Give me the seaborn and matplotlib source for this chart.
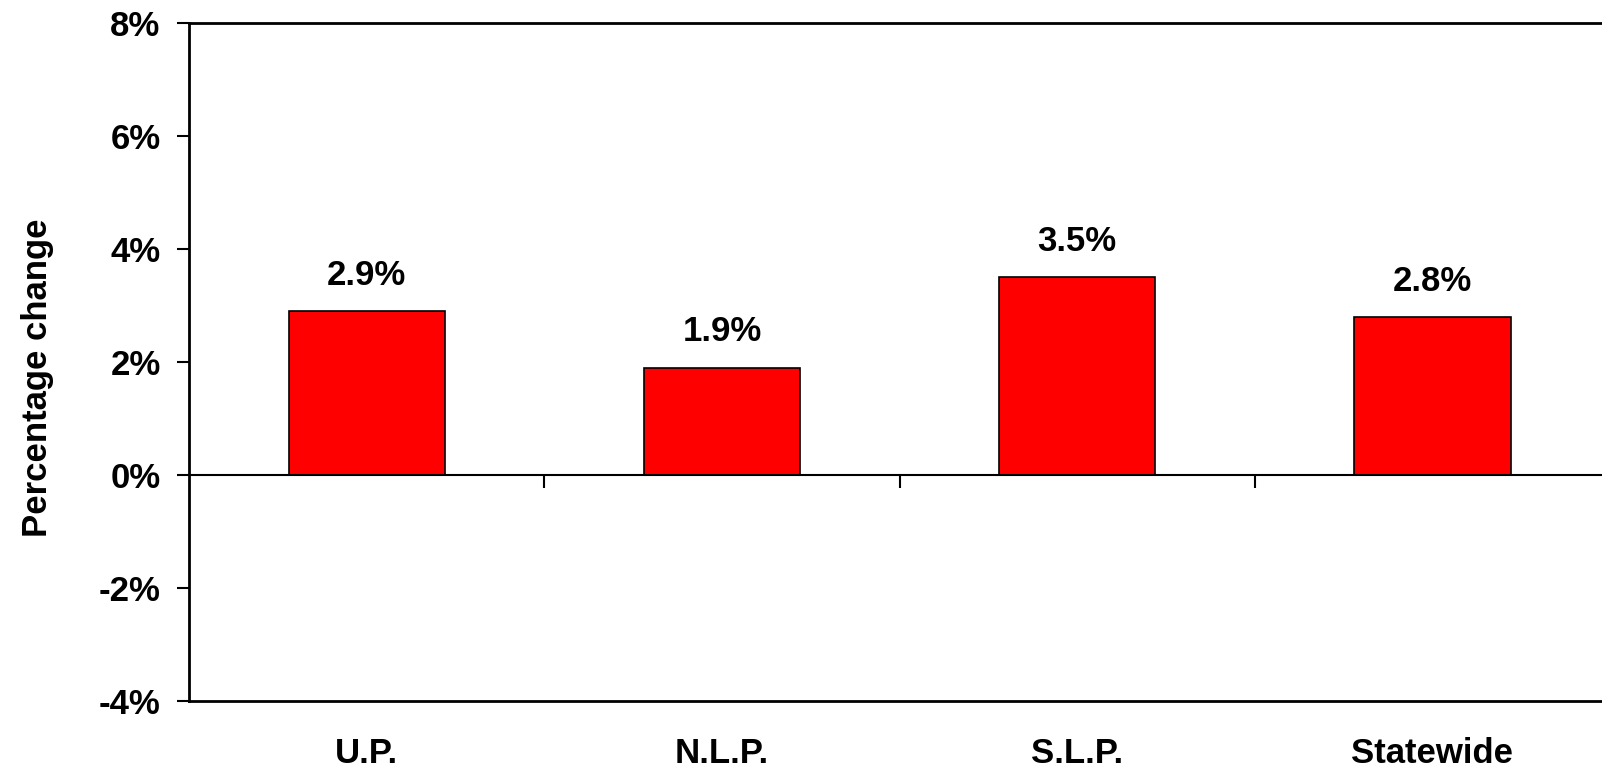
import matplotlib
matplotlib.use('Agg')
import matplotlib.pyplot as plt
import seaborn as sns
import pandas as pd
from matplotlib.ticker import FuncFormatter

regions = ['U.P.', 'N.L.P.', 'S.L.P.', 'Statewide']
pct_change = [2.9, 1.9, 3.5, 2.8]
value_labels = ['2.9%', '1.9%', '3.5%', '2.8%']
y_ticks = [-4, -2, 0, 2, 4, 6, 8]

df = pd.DataFrame({'Region': regions, 'Change': pct_change})

sns.set_style('white')
plt.rcParams['font.family'] = ['Liberation Sans', 'DejaVu Sans']
plt.rcParams['font.weight'] = 'bold'
plt.rcParams['text.color'] = 'black'
plt.rcParams['axes.labelcolor'] = 'black'
plt.rcParams['xtick.color'] = 'black'
plt.rcParams['ytick.color'] = 'black'

fig = plt.figure(figsize=(16.02, 7.69), dpi=100)
ax = fig.add_axes([0.118, 0.088, 0.887, 0.882])

sns.barplot(data=df, x='Region', y='Change', color='#ff0000', saturation=1,
            edgecolor='black', linewidth=1.2, width=0.44, ax=ax)

ax.set_xlim(-0.5, 3.5)
ax.set_ylim(-4, 8)
ax.set_yticks(y_ticks)
ax.yaxis.set_major_formatter(FuncFormatter(lambda v, p: f'{v:.0f}%'))
ax.tick_params(axis='y', direction='out', length=8.5, width=1.5, labelsize=25,
               pad=12, left=True)
ax.tick_params(axis='x', bottom=False, labelsize=25, pad=22)
for lbl in ax.get_xticklabels() + ax.get_yticklabels():
    lbl.set_fontweight('bold')

ax.set_xlabel('')
ax.set_ylabel('Percentage change', fontsize=25, fontweight='bold')
ax.yaxis.set_label_coords(-0.095, 0.477)

for side in ['left', 'top', 'bottom']:
    ax.spines[side].set_visible(True)
    ax.spines[side].set_color('black')
    ax.spines[side].set_linewidth(2)
ax.spines['right'].set_visible(False)

# zero line with boundary ticks between categories
ax.axhline(0, color='black', linewidth=1.5, zorder=1)
zero_axis = ax.secondary_xaxis(1 / 3)
zero_axis.set_xticks([0.5, 1.5, 2.5])
zero_axis.set_xticklabels([])
zero_axis.tick_params(direction='out', length=9, width=1.5)
zero_axis.spines['bottom'].set_visible(False)
zero_axis.spines['top'].set_visible(False)

for i, (v, txt) in enumerate(zip(pct_change, value_labels)):
    ax.annotate(txt, (i, v), xytext=(0, 14), textcoords='offset points',
                ha='center', va='bottom', fontsize=25, fontweight='bold')

fig.savefig('out.png', dpi=100)
